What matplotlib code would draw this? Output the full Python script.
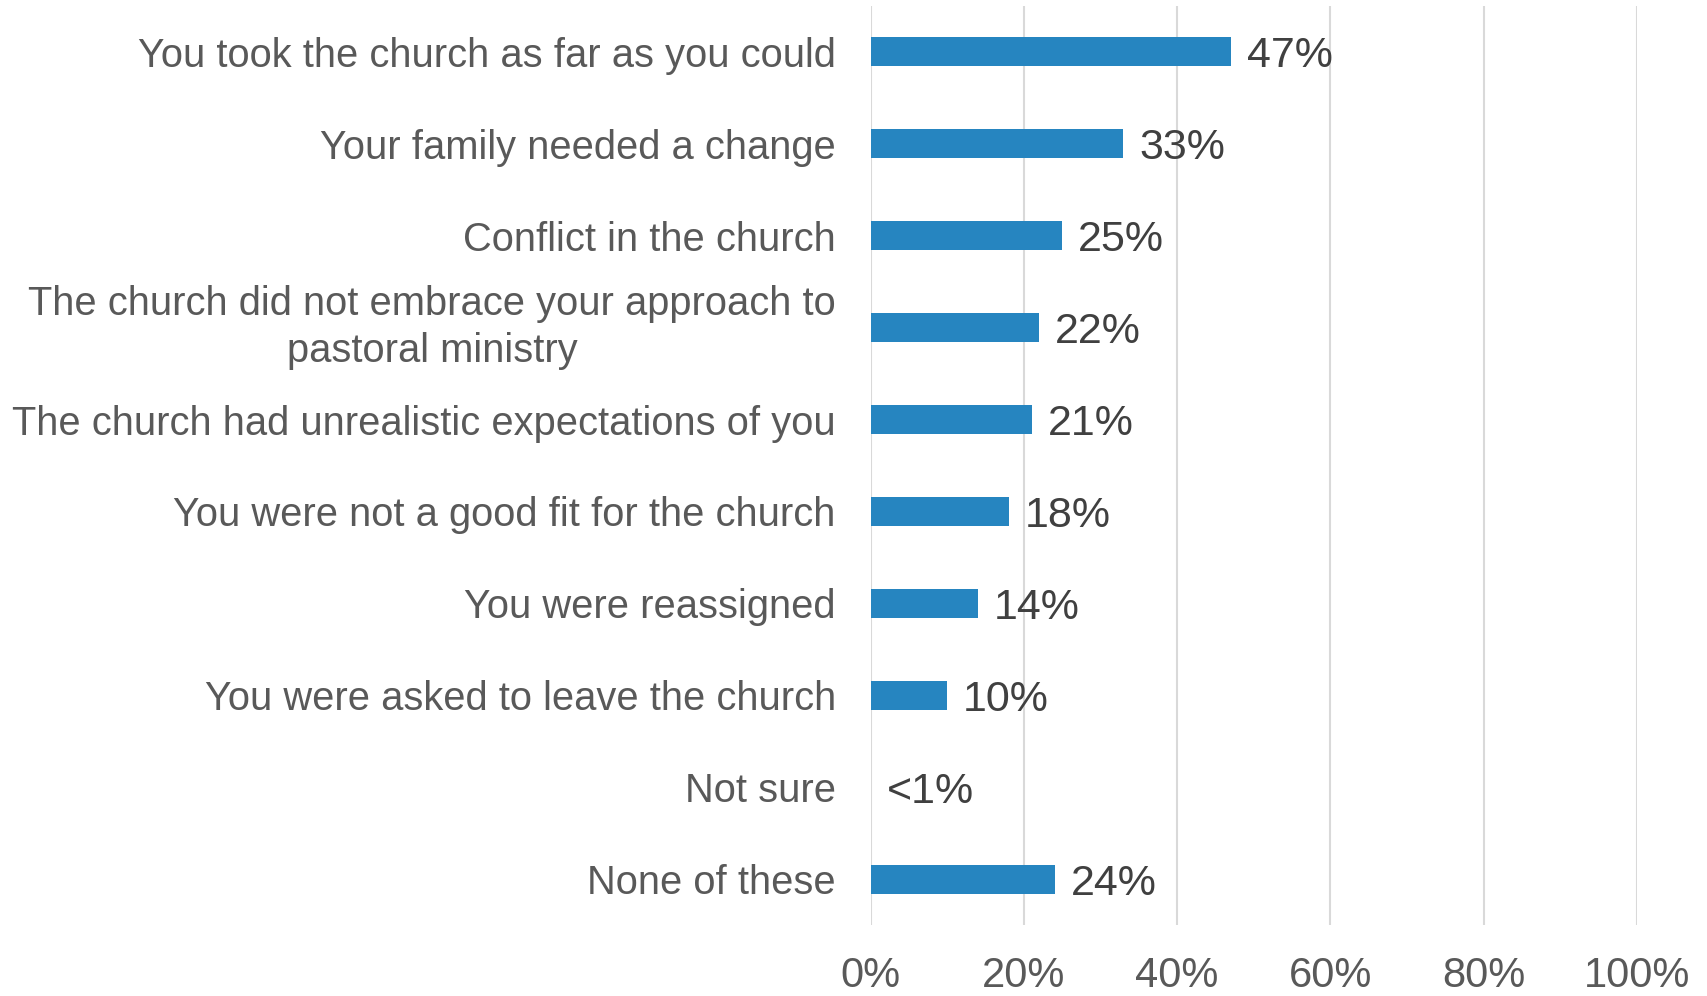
import matplotlib.pyplot as plt
from matplotlib.ticker import PercentFormatter

categories = ["You took the church as far as you could",
              "Your family needed a change",
              "Conflict in the church",
              "The church did not embrace your approach to\npastoral ministry",
              "The church had unrealistic expectations of you",
              "You were not a good fit for the church",
              "You were reassigned",
              "You were asked to leave the church",
              "Not sure",
              "None of these"]
values = [47, 33, 25, 22, 21, 18, 14, 10, 0, 24]
value_labels = ["47%", "33%", "25%", "22%", "21%", "18%", "14%", "10%", "<1%", "24%"]

plt.rcParams['font.family'] = ['Liberation Sans', 'DejaVu Sans']

fig = plt.figure(figsize=(17.07, 9.96), dpi=100)
ax = fig.add_axes([0.510, 0.0713, 0.449, 0.9227])

y = list(range(len(categories)))
ax.barh(y, values, height=0.315, color='#2685C0', zorder=3)
for yi, v, lab in zip(y, values, value_labels):
    ax.annotate(lab, (v, yi), xytext=(11.5, 0), textcoords='offset points',
                va='center_baseline', ha='left', fontsize=31, color='#404040')

ax.set_xlim(0, 100)
ax.set_ylim(len(categories) - 0.5, -0.5)
ax.set_yticks(y)
ax.set_yticklabels(categories, fontsize=28.7, color='#595959', ha='right',
                   multialignment='center', linespacing=1.28)
# two-line label sits centred on its bar
for t in ax.get_yticklabels():
    if '\n' in t.get_text():
        t.set_va('center')
ax.set_xticks(range(0, 101, 20))
ax.xaxis.set_major_formatter(PercentFormatter(decimals=0))
ax.tick_params(axis='x', length=0, pad=22, labelsize=30, labelcolor='#595959')
ax.tick_params(axis='y', length=0, pad=25)
ax.grid(axis='x', color='#D9D9D9', linewidth=1.5, zorder=0)
for s in ax.spines.values():
    s.set_visible(False)

fig.savefig('out.png', dpi=100)
